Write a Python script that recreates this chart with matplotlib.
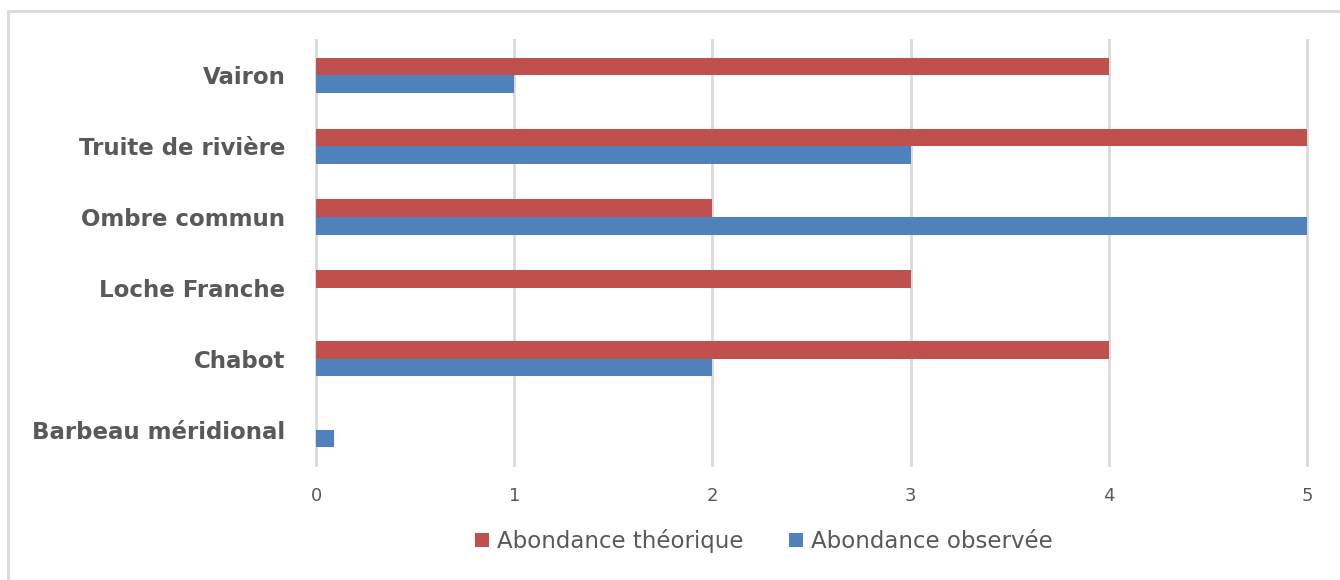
import matplotlib
matplotlib.use("Agg")
import matplotlib.pyplot as plt
from matplotlib.patches import Rectangle
import numpy as np

species = ["Barbeau méridional", "Chabot", "Loche Franche",
           "Ombre commun", "Truite de rivière", "Vairon"]
theoretical = [0, 4, 3, 2, 5, 4]
observed = [0.09, 2, 0, 5, 3, 1]
x_ticks = [0, 1, 2, 3, 4, 5]

RED = "#C0504D"
BLUE = "#4F81BD"
GRID = "#D9D9D9"
TEXT = "#595959"

fig = plt.figure(figsize=(13.4, 5.8), dpi=100)
W, H = 1340, 580

# outer chart frame (runs off the right and bottom edges)
fig.patches.append(Rectangle((8 / W, -0.1), 1.2, 1.1 - 11 / H, transform=fig.transFigure,
                             fill=False, edgecolor=GRID, linewidth=2, zorder=0))

ax = fig.add_axes([316 / W, 1 - 465 / H, (1307 - 316) / W, (465 - 40) / H])

y = np.arange(len(species))
h = 0.25
ax.barh(y + h / 2, theoretical, height=h, color=RED, zorder=3,
        label="Abondance théorique")
ax.barh(y - h / 2, observed, height=h, color=BLUE, zorder=3,
        label="Abondance observée")

ax.set_xlim(0, 5)
ax.set_ylim(-0.5, len(species) - 0.5)
ax.set_xticks(x_ticks)
ax.set_xticklabels([str(t) for t in x_ticks], fontsize=13, color=TEXT,
                   family="DejaVu Sans")
ax.set_yticks(y)
ax.set_yticklabels(species, fontsize=16.5, color=TEXT, fontweight="bold",
                   family="DejaVu Sans")
ax.tick_params(axis="y", length=0, pad=22)
ax.tick_params(axis="x", length=0, pad=16)
ax.xaxis.grid(True, color=GRID, linewidth=2, zorder=0)
ax.set_axisbelow(True)
for gl in ax.get_xgridlines():
    gl.set_clip_on(False)
for s in ax.spines.values():
    s.set_visible(False)

handles, labels = ax.get_legend_handles_labels()
fig.legend(handles, labels, loc="center", bbox_to_anchor=(764 / W, 1 - 541 / H),
           ncol=2, frameon=False, prop={"family": "DejaVu Sans", "size": 16.5},
           labelcolor=TEXT, handlelength=0.6, handleheight=0.6,
           handletextpad=0.35, columnspacing=2.0)

fig.savefig("out.png", dpi=100)
